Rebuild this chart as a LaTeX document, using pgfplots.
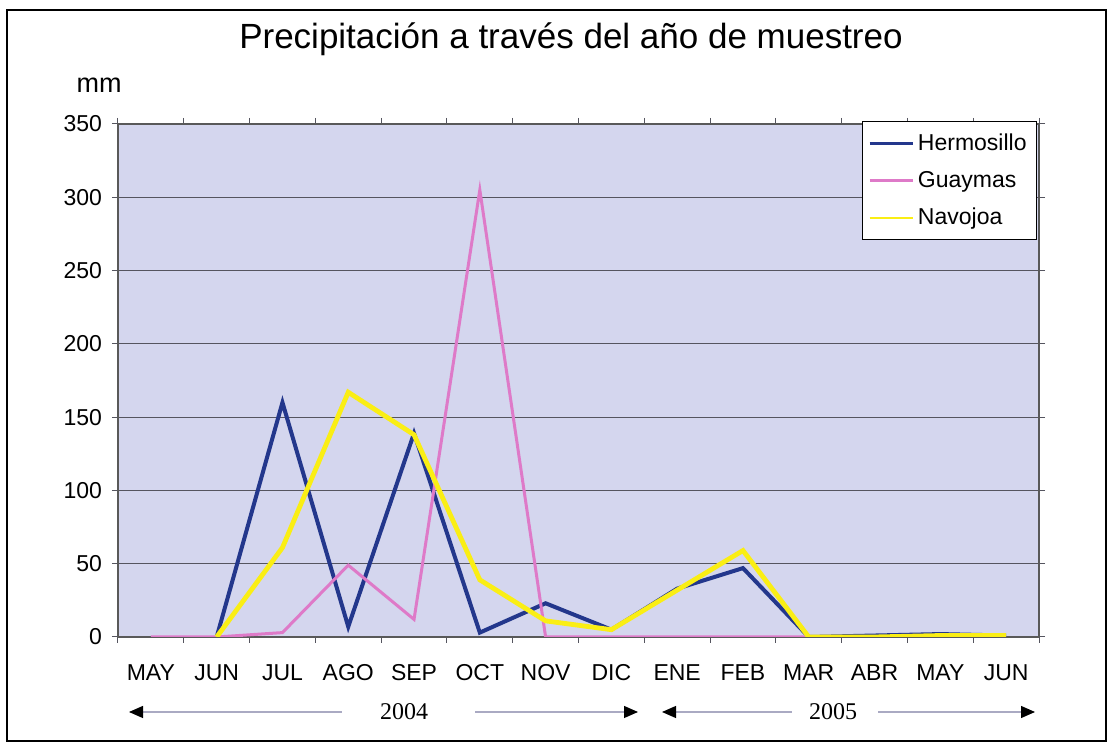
\documentclass[border=0pt]{standalone}
\usepackage{fontspec}
\setmainfont{Liberation Sans}
\newfontfamily\timesfont{Liberation Serif}
\usepackage{pgfplots}
\pgfplotsset{compat=1.18}
\usetikzlibrary{arrows.meta}

\definecolor{plotbg}{RGB}{212,214,238}
\definecolor{hermo}{RGB}{35,55,140}
\definecolor{guay}{RGB}{222,122,200}
\definecolor{navo}{RGB}{250,238,20}
\definecolor{gridc}{RGB}{85,85,95}
\definecolor{arrowc}{RGB}{170,170,195}

\begin{document}
\begin{tikzpicture}[font=\fontsize{11.5}{13}\selectfont]
\useasboundingbox (-59pt,-55.5pt) rectangle (497.5pt,318.5pt);
\draw[line width=1pt] (-55.5pt,-52pt) rectangle (494pt,313.5pt);
\begin{axis}[
    at={(0,0)}, anchor=south west,
    scale only axis,
    width=460.5pt, height=256.5pt,
    xmin=-0.5, xmax=13.5,
    ymin=0, ymax=350,
    ytick={0,50,...,350},
    xtick={0,...,13},
    xticklabels={MAY,JUN,JUL,AGO,SEP,OCT,NOV,DIC,ENE,FEB,MAR,ABR,MAY,JUN},
    minor xtick={-0.5,0.5,...,13.5},
    major x tick style={draw=none},
    minor x tick style={gridc, line width=0.5pt},
    ytick style={gridc, line width=0.5pt},
    tick align=outside,
    major tick length=3pt, minor tick length=3pt,
    ymajorgrids,
    grid style={gridc, line width=0.5pt},
    axis line style={draw=gray!70!black, line width=0.6pt},
    axis background/.style={fill=plotbg},
    /pgf/number format/assume math mode=true,
    ticklabel style={font=\fontsize{11.5}{13}\selectfont},
    xticklabel style={anchor=base, yshift=-19pt},
    yticklabel style={xshift=-1.5pt},
    legend style={at={(1,1)}, anchor=north east, xshift=-1pt, yshift=1.5pt,
        draw=black, fill=white, font=\fontsize{11.5}{13}\selectfont,
        inner xsep=3pt, inner ysep=4pt, row sep=5pt},
    legend cell align=left,
    legend image code/.code={\draw[#1, line width=1.4pt] (0pt,0pt) -- (21.5pt,0pt);},
]
\addplot[hermo, line width=2pt] coordinates {
    (1,0) (2,160) (3,7) (4,139) (5,3) (6,23) (7,5) (8,33) (9,47) (10,0) (11,1) (12,2) (13,1)
};
\addlegendentry{Hermosillo}
\addplot[guay, line width=1.5pt] coordinates {
    (0,0) (1,0) (2,3) (3,49) (4,12) (5,305) (6,0) (7,0) (8,0) (9,0) (10,0) (11,0) (12,0) (13,0)
};
\addlegendentry{Guaymas}
\addplot[navo, line width=2.4pt] coordinates {
    (1,0) (2,61) (3,167) (4,138) (5,39) (6,11) (7,5) (8,32) (9,59) (10,0) (11,0) (12,1) (13,1)
};
\addlegendentry{Navojoa}
\end{axis}

\node[font=\fontsize{17.5}{21}\selectfont] at (226.5pt,299pt) {Precipitación a través del año de muestreo};
\node[font=\fontsize{13.5}{15}\selectfont] at (-9.5pt,276pt) {mm};

% años y flechas
\node[font=\timesfont\fontsize{12}{14}\selectfont] at (143pt,-37.5pt) {2004};
\node[font=\timesfont\fontsize{12}{14}\selectfont] at (357.5pt,-37.5pt) {2005};
\draw[arrowc, line width=0.6pt, {Triangle[length=7pt,width=6pt,black]}-] (5.5pt,-37.5pt) -- (112pt,-37.5pt);
\draw[arrowc, line width=0.6pt, -{Triangle[length=7pt,width=6pt,black]}] (178.5pt,-37.5pt) -- (260pt,-37.5pt);
\draw[arrowc, line width=0.6pt, {Triangle[length=7pt,width=6pt,black]}-] (272pt,-37.5pt) -- (337pt,-37.5pt);
\draw[arrowc, line width=0.6pt, -{Triangle[length=7pt,width=6pt,black]}] (380pt,-37.5pt) -- (458.5pt,-37.5pt);
\end{tikzpicture}
\end{document}
